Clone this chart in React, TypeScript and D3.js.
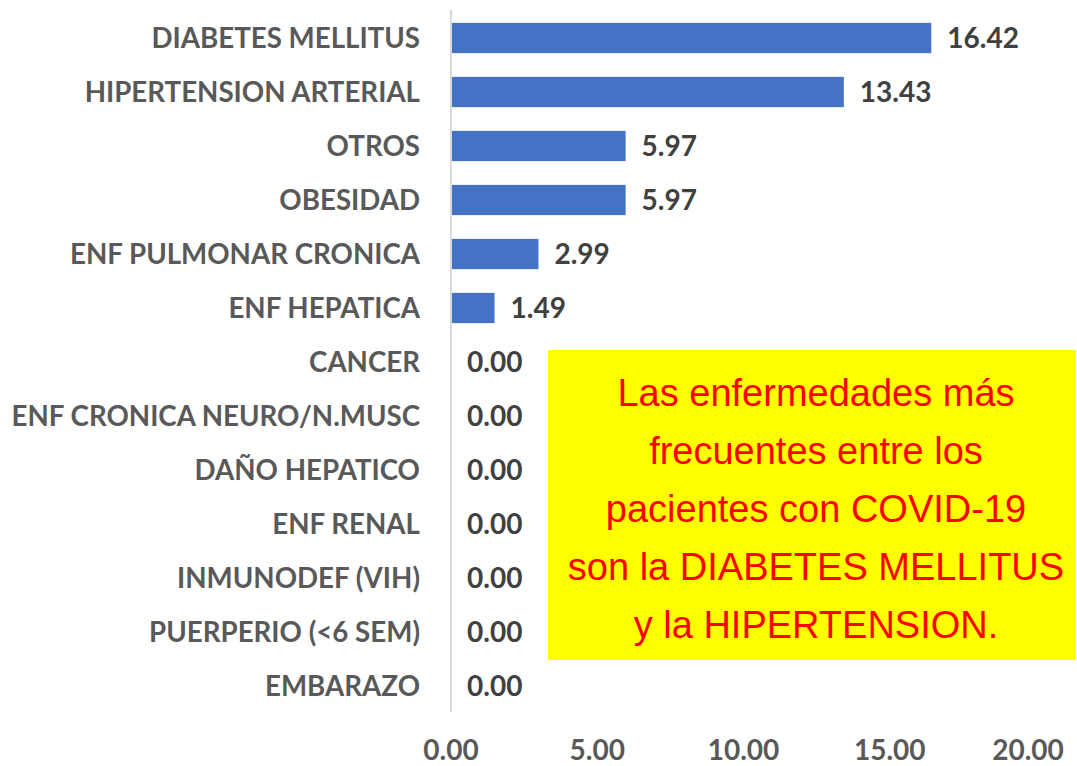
import React, { useEffect } from 'react'
import * as d3 from 'd3'

// comorbilidades (%), de arriba hacia abajo
const categorias = [
  'DIABETES MELLITUS',
  'HIPERTENSION ARTERIAL',
  'OTROS',
  'OBESIDAD',
  'ENF PULMONAR CRONICA',
  'ENF HEPATICA',
  'CANCER',
  'ENF CRONICA NEURO/N.MUSC',
  'DAÑO HEPATICO',
  'ENF RENAL',
  'INMUNODEF (VIH)',
  'PUERPERIO (<6 SEM)',
  'EMBARAZO',
]
const valores = [16.42, 13.43, 5.97, 5.97, 2.99, 1.49, 0, 0, 0, 0, 0, 0, 0]
const ticksX = [0, 5, 10, 15, 20]
const nota = [
  'Las enfermedades más',
  'frecuentes entre los',
  'pacientes con COVID-19',
  'son la DIABETES MELLITUS',
  'y la HIPERTENSION.',
]

const W = 1077
const H = 766
const labelFont = "Lato, 'Open Sans', sans-serif"

export default function App() {
  useEffect(() => {
    document.body.style.margin = '0'
  }, [])

  const x = d3.scaleLinear().domain([0, 20]).range([451, 1036])
  const y = d3.scaleBand<string>().domain(categorias).range([11, 713]).paddingInner(0.44).paddingOuter(0.22)
  const fmt = d3.format('.2f')

  return (
    <svg width={W} height={H} style={{ display: 'block', background: '#fff' }}>
      {/* barras */}
      {categorias.map((c, i) => (
        <rect key={c} x={x(0)} y={y(c)} width={x(valores[i]) - x(0)} height={y.bandwidth()} fill="#4472C4" />
      ))}
      {/* eje vertical */}
      <line x1={x(0)} x2={x(0)} y1={10} y2={712} stroke="#D9D9D9" strokeWidth={2} />
      {/* etiquetas de categoria */}
      {categorias.map(c => (
        <text key={c} x={420} y={(y(c) as number) + y.bandwidth() / 2} dy="0.35em" textAnchor="end"
          fontFamily={labelFont} fontWeight="bold" fontSize={27.7} fill="#595959">{c}</text>
      ))}
      {/* valores */}
      {categorias.map((c, i) => (
        <text key={c} x={x(valores[i]) + 16} y={(y(c) as number) + y.bandwidth() / 2} dy="0.35em"
          fontFamily={labelFont} fontWeight="bold" fontSize={28} fill="#404040">{fmt(valores[i])}</text>
      ))}
      {/* eje x */}
      {ticksX.map((t, i) => (
        <text key={t} x={i === ticksX.length - 1 ? x(t) - 8 : x(t)} y={750} dy="0.35em" textAnchor="middle"
          fontFamily={labelFont} fontWeight="bold" fontSize={28} fill="#595959">{fmt(t)}</text>
      ))}
      {/* cuadro de nota */}
      <rect x={548} y={350} width={W - 548 - 1} height={310} fill="#FFFF00" />
      {nota.map((l, i) => (
        <text key={l} x={816} y={393 + i * 58} dy="0.35em" textAnchor="middle"
          fontFamily="'Century Gothic', Futura, 'Liberation Sans', sans-serif" fontSize={38} fill="#FF0000">{l}</text>
      ))}
    </svg>
  )
}
